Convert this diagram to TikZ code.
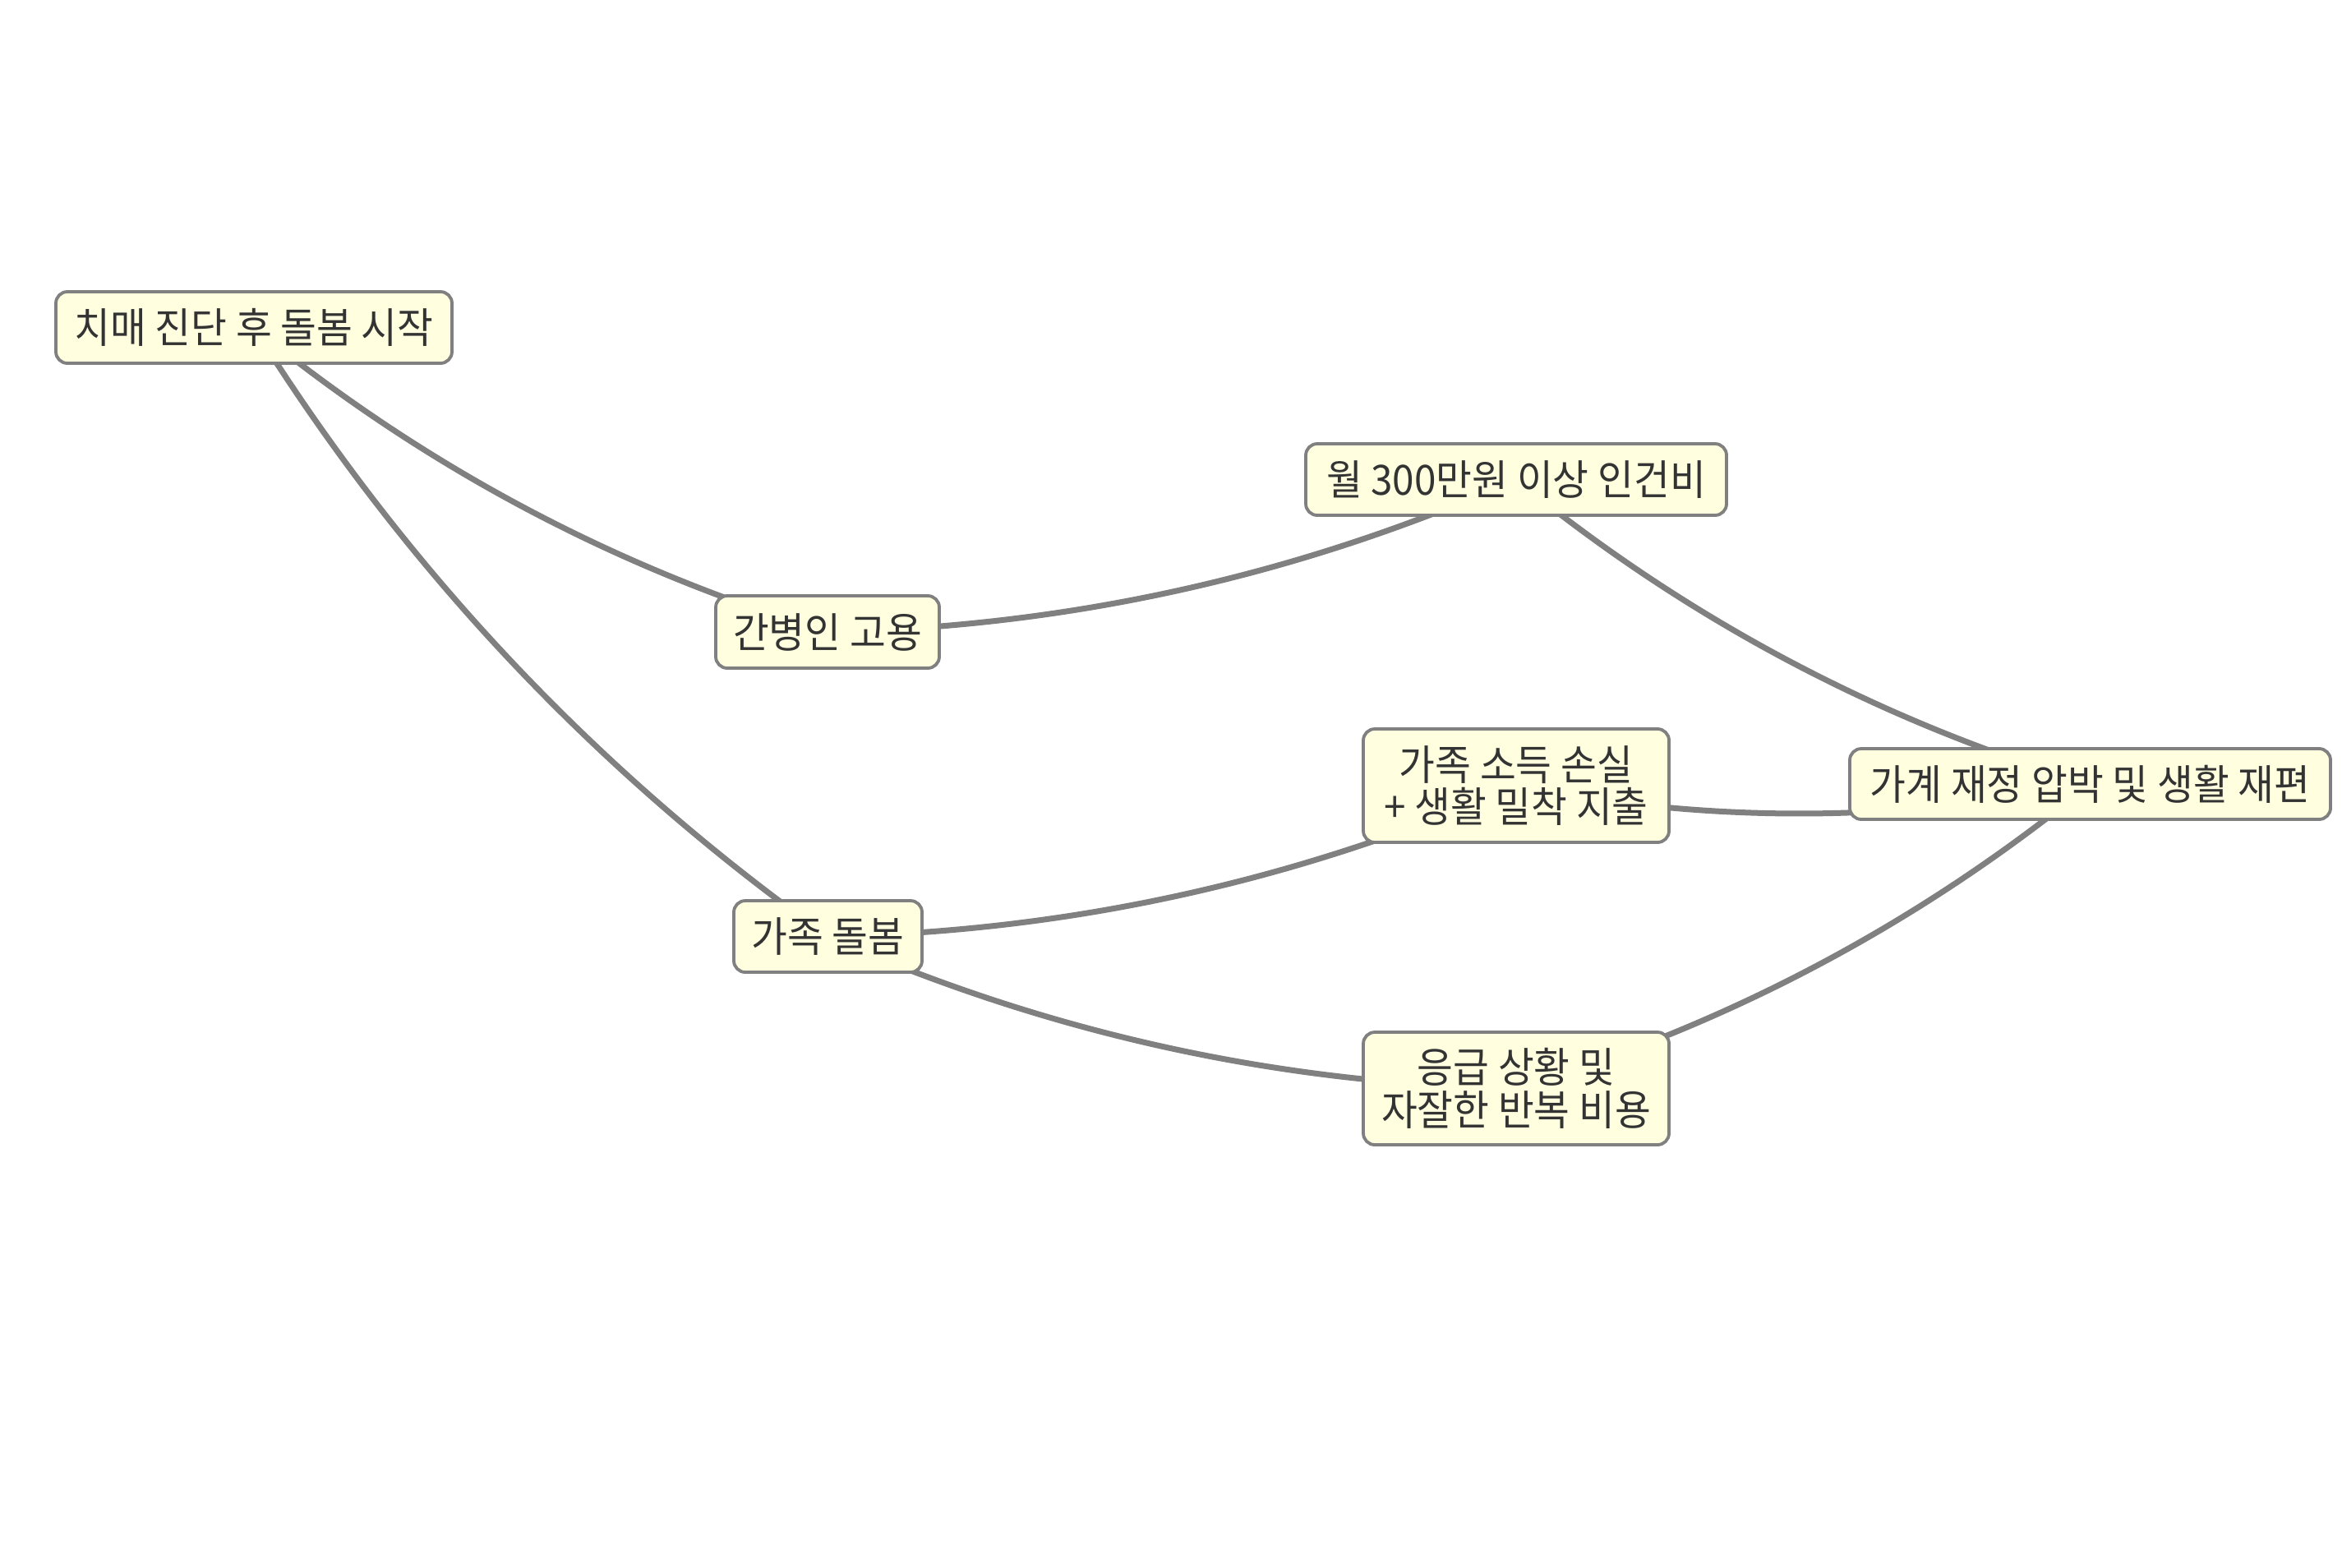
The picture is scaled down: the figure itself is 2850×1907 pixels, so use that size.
\documentclass[tikz,border=0pt]{standalone}
\usepackage{fontspec}
\usetikzlibrary{backgrounds}
\setmainfont{Noto Sans CJK KR}[FakeStretch=0.94]
\definecolor{edgegray}{HTML}{808080}
\definecolor{boxfill}{HTML}{FFFFE0}
\definecolor{txt}{HTML}{333333}
\begin{document}
\begin{tikzpicture}[x=0.3pt,y=-0.3pt,
  box/.style={draw=edgegray, line width=1.15pt, fill=boxfill, rounded corners=4.2pt,
    inner sep=0pt, align=center, text=txt, font=\fontsize{15.2pt}{15.5pt}\selectfont},
  link/.style={draw=edgegray, line width=2.1pt, bend right=11.3, looseness=0.87}]
\useasboundingbox (0,0) rectangle (2850,1907);
\node[box, minimum width=144.6pt, minimum height=26.1pt] (A) at (309,398.5) {치매 진단 후 돌봄 시작};
\node[box, minimum width=81.6pt, minimum height=26.4pt] (B) at (1007,769) {간병인 고용};
\node[box, minimum width=153.6pt, minimum height=26.1pt] (C) at (1845,583.5) {월 300만원 이상 인건비};
\node[box, minimum width=111.6pt, minimum height=41.4pt] (D) at (1845,956) {가족 소득 손실\\+ 생활 밀착 지출};
\node[box, minimum width=175.5pt, minimum height=25.8pt] (E) at (2543.5,954) {가계 재정 압박 및 생활 재편};
\node[box, minimum width=68.7pt, minimum height=26.1pt] (F) at (1007.5,1139.5) {가족 돌봄};
\node[box, minimum width=111.6pt, minimum height=41.1pt] (G) at (1845,1324.5) {응급 상황 및\\자잘한 반복 비용};
\begin{scope}[on background layer]
\fill[white] (0,0) rectangle (2850,1907);
\draw[link] (A.center) to (B.center);
\draw[link] (A.center) to (F.center);
\draw[link] (B.center) to (C.center);
\draw[link] (C.center) to (E.center);
\draw[link] (F.center) to (D.center);
\draw[link] (F.center) to (G.center);
\draw[link] (D.center) to (E.center);
\draw[link] (G.center) to (E.center);
\end{scope}
\end{tikzpicture}
\end{document}
